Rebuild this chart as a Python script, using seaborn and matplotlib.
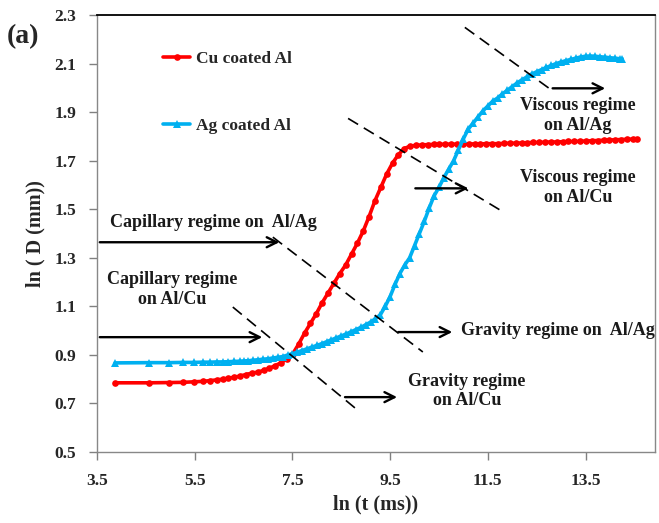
import matplotlib
matplotlib.use("Agg")
import matplotlib.pyplot as plt
import seaborn as sns
import pandas as pd

# ---------------- data ----------------
cu_x = [3.87, 4.56, 4.97, 5.26, 5.48, 5.66, 5.82, 5.95, 6.07, 6.19, 6.31, 6.43, 6.55, 6.67,
        6.79, 6.91, 7.03, 7.15, 7.27, 7.39, 7.51, 7.63, 7.75, 7.87, 7.99, 8.11, 8.23, 8.35,
        8.47, 8.59, 8.71, 8.83, 8.95, 9.07, 9.19, 9.31, 9.43, 9.55, 9.67, 9.79, 9.91, 10.03,
        10.15, 10.27, 10.39, 10.51, 10.63, 10.75, 10.87, 10.99, 11.11, 11.23, 11.35, 11.47,
        11.59, 11.71, 11.83, 11.95, 12.07, 12.19, 12.31, 12.43, 12.55, 12.67, 12.79, 12.91,
        13.03, 13.15, 13.27, 13.39, 13.51, 13.63, 13.75, 13.87, 13.99, 14.11, 14.23, 14.35,
        14.47, 14.55]
cu_y = [0.785, 0.785, 0.786, 0.787, 0.789, 0.791, 0.794, 0.797, 0.800, 0.804, 0.808, 0.813,
        0.819, 0.825, 0.829, 0.836, 0.845, 0.856, 0.868, 0.885, 0.905, 0.945, 0.990, 1.030,
        1.070, 1.115, 1.155, 1.195, 1.235, 1.270, 1.315, 1.360, 1.410, 1.470, 1.535, 1.590,
        1.645, 1.690, 1.725, 1.750, 1.760, 1.763, 1.765, 1.766, 1.767, 1.767, 1.768, 1.768,
        1.768, 1.769, 1.769, 1.769, 1.769, 1.770, 1.770, 1.770, 1.771, 1.772, 1.772, 1.773,
        1.774, 1.775, 1.775, 1.776, 1.777, 1.777, 1.778, 1.779, 1.779, 1.780, 1.781, 1.782,
        1.783, 1.784, 1.785, 1.786, 1.787, 1.788, 1.789, 1.790]

ag_x = [3.87, 4.56, 4.97, 5.26, 5.48, 5.66, 5.82, 5.95, 6.07, 6.19, 6.31, 6.43,
        6.5, 6.6, 6.7, 6.8, 6.9, 7.0, 7.1, 7.2, 7.3, 7.4, 7.5, 7.6, 7.7, 7.8, 7.9, 8.0,
        8.1, 8.2, 8.3, 8.4, 8.5, 8.6, 8.7, 8.8, 8.9, 9.0, 9.1, 9.2, 9.3, 9.4, 9.5, 9.6,
        9.7, 9.8, 9.9, 10.0, 10.1, 10.2, 10.3, 10.4, 10.5, 10.6, 10.7, 10.8, 10.9, 11.0,
        11.1, 11.2, 11.3, 11.4, 11.5, 11.6, 11.7, 11.8, 11.9, 12.0, 12.1, 12.2, 12.3, 12.4,
        12.5, 12.6, 12.7, 12.8, 12.9, 13.0, 13.1, 13.2, 13.3, 13.4, 13.5, 13.6, 13.7, 13.8,
        13.9, 14.0, 14.1, 14.2, 14.25]
ag_y = [0.867, 0.868, 0.868, 0.869, 0.869, 0.870, 0.870, 0.871, 0.871, 0.872, 0.873, 0.874,
        0.875, 0.876, 0.878, 0.880, 0.882, 0.884, 0.887, 0.890, 0.893, 0.899, 0.905, 0.911,
        0.918, 0.925, 0.932, 0.939, 0.946, 0.954, 0.962, 0.970, 0.978, 0.986, 0.995, 1.004,
        1.013, 1.024, 1.035, 1.049, 1.065, 1.100, 1.140, 1.190, 1.235, 1.270, 1.300, 1.350,
        1.400, 1.450, 1.505, 1.555, 1.590, 1.630, 1.665, 1.700, 1.745, 1.790, 1.830, 1.855,
        1.880, 1.905, 1.925, 1.945, 1.958, 1.975, 1.990, 2.005, 2.020, 2.033, 2.045, 2.057,
        2.066, 2.075, 2.084, 2.092, 2.100, 2.106, 2.112, 2.117, 2.122, 2.127, 2.130, 2.131,
        2.130, 2.128, 2.126, 2.124, 2.122, 2.120, 2.120]

series_labels = ["Cu coated Al", "Ag coated Al"]
x_ticks = [3.5, 5.5, 7.5, 9.5, 11.5, 13.5]
y_ticks = [0.5, 0.7, 0.9, 1.1, 1.3, 1.5, 1.7, 1.9, 2.1, 2.3]

# ---------------- style ----------------
sns.set_theme(style="white")
plt.rcParams["font.family"] = ["Liberation Serif", "DejaVu Serif"]
plt.rcParams["font.weight"] = "bold"

fig = plt.figure(figsize=(6.59, 5.23), dpi=100)
ax = fig.add_axes([97 / 659, 1 - 452 / 523, (655 - 97) / 659, (452 - 15) / 523])

df_cu = pd.DataFrame({"x": cu_x, "y": cu_y})
df_ag = pd.DataFrame({"x": ag_x, "y": ag_y})

sns.lineplot(data=df_cu, x="x", y="y", ax=ax, color="#FF0000", lw=2.6, marker="o",
             markersize=4.8, markeredgewidth=0, sort=False, estimator=None,
             label=series_labels[0])
sns.lineplot(data=df_ag, x="x", y="y", ax=ax, color="#00B0F0", lw=2.6, marker="^",
             markersize=6, markeredgewidth=0, sort=False, estimator=None,
             label=series_labels[1])

ax.set_xlim(3.5, 3.5 + 558 / 48.85)
ax.set_ylim(0.5, 2.3)
ax.set_xticks(x_ticks)
ax.set_yticks(y_ticks)
ax.set_xticklabels([f"{t:.1f}" for t in x_ticks], fontsize=12.5, fontweight="bold")
ax.set_yticklabels([f"{t:.1f}" for t in y_ticks], fontsize=12.5, fontweight="bold")
ax.tick_params(axis="both", direction="out", length=6, width=1, color="#808080",
               bottom=True, left=True)
ax.tick_params(axis="y", pad=9)
ax.tick_params(axis="x", pad=9)
for s in ["left", "bottom", "right"]:
    ax.spines[s].set_color("#888888")
    ax.spines[s].set_linewidth(1.0)
ax.spines["top"].set_color("black")
ax.spines["top"].set_linewidth(1.3)

ax.set_xlabel("ln (t (ms))", fontsize=14.5, fontweight="bold", labelpad=4)
ax.set_ylabel("ln ( D (mm))", fontsize=14.5, fontweight="bold", labelpad=6)

leg = ax.legend(loc="upper left", bbox_to_anchor=(0.091, 0.953), frameon=False,
                fontsize=12.5, handlelength=1.55, handletextpad=0.3, labelspacing=2.9)
for t in leg.get_texts():
    t.set_fontweight("bold")

# ---------------- annotations ----------------
dash = dict(color="black", lw=1.2, dashes=(7, 4))
# dashed regime boundaries
ax.plot([11.03, 12.81], [2.249, 1.99], **dash)
ax.plot([8.64, 11.79], [1.874, 1.492], **dash)
ax.plot([7.10, 10.17], [1.385, 0.912], **dash)
ax.plot([6.28, 8.88], [1.097, 0.665], **dash)

arrow = dict(arrowstyle="->", color="black", lw=1.7, mutation_scale=18)
ax.annotate("", xy=(13.96, 1.998), xytext=(12.77, 1.998), arrowprops=arrow)
ax.annotate("", xy=(11.16, 1.586), xytext=(9.96, 1.586), arrowprops=arrow)
ax.annotate("", xy=(7.29, 1.364), xytext=(3.5, 1.364), arrowprops=arrow)
ax.annotate("", xy=(6.94, 0.973), xytext=(3.5, 0.973), arrowprops=arrow)
ax.annotate("", xy=(10.83, 0.994), xytext=(9.61, 0.994), arrowprops=arrow)
ax.annotate("", xy=(9.70, 0.726), xytext=(8.52, 0.726), arrowprops=arrow)

tk = dict(fontsize=13, fontweight="bold", color="#1a1a1a")
ax.text(13.35, 1.885, "Viscous regime\non Al/Ag", ha="center", va="center", linespacing=1.2, **tk)
ax.text(13.35, 1.59, "Viscous regime\non Al/Cu", ha="center", va="center", linespacing=1.2, **tk)
ax.text(3.77, 1.447, "Capillary regime on  Al/Ag", ha="left", va="center", **tk)
ax.text(5.04, 1.17, "Capillary regime\non Al/Cu", ha="center", va="center", linespacing=1.2, **tk)
ax.text(10.96, 1.002, "Gravity regime on  Al/Ag", ha="left", va="center", **tk)
ax.text(11.07, 0.752, "Gravity regime\non Al/Cu", ha="center", va="center", linespacing=1.2, **tk)

fig.text(7 / 659, 1 - 37 / 523, "(a)", fontsize=20, fontweight="bold", va="center", ha="left")

fig.savefig("out.png", dpi=100)
